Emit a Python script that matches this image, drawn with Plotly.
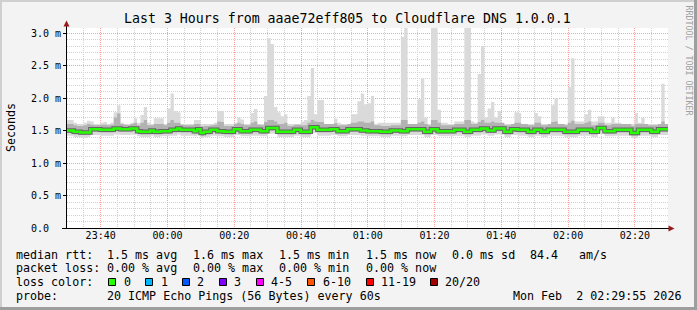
import plotly.graph_objects as go
from datetime import datetime, timedelta

# ---------------- data ----------------
start_time = datetime(2026, 2, 1, 23, 29, 55)
end_time = datetime(2026, 2, 2, 2, 29, 55)

median_rtt = [
    1.50,1.50,1.48,1.48,1.47,1.47,1.47,1.52,1.52,1.52,
    1.51,1.51,1.51,1.51,1.53,1.53,1.52,1.52,1.52,1.53,
    1.53,1.49,1.48,1.48,1.48,1.50,1.48,1.48,1.49,1.49,
    1.49,1.51,1.51,1.53,1.51,1.51,1.51,1.51,1.49,1.52,
    1.46,1.48,1.48,1.51,1.51,1.49,1.49,1.48,1.48,1.48,
    1.52,1.52,1.49,1.49,1.49,1.51,1.51,1.51,1.49,1.49,
    1.54,1.54,1.54,1.48,1.48,1.48,1.48,1.48,1.51,1.51,
    1.48,1.48,1.48,1.55,1.55,1.51,1.51,1.51,1.51,1.52,
    1.52,1.49,1.49,1.49,1.52,1.52,1.52,1.52,1.50,1.50,
    1.49,1.49,1.49,1.49,1.48,1.48,1.48,1.50,1.50,1.50,
    1.49,1.49,1.52,1.52,1.52,1.52,1.52,1.48,1.48,1.52,
    1.52,1.49,1.49,1.49,1.49,1.49,1.51,1.51,1.51,1.48,
    1.48,1.51,1.51,1.51,1.53,1.53,1.50,1.50,1.53,1.53,
    1.53,1.48,1.48,1.52,1.52,1.51,1.51,1.51,1.48,1.48,
    1.51,1.51,1.48,1.48,1.51,1.51,1.51,1.51,1.51,1.48,
    1.48,1.48,1.48,1.51,1.51,1.51,1.51,1.48,1.48,1.54,
    1.54,1.49,1.49,1.49,1.51,1.51,1.51,1.51,1.51,1.46,
    1.46,1.51,1.51,1.51,1.51,1.48,1.48,1.52,1.52,1.52,
]

smoke_max = [
    1.66,1.66,1.62,1.60,1.60,1.62,1.65,1.64,1.60,1.60,
    1.62,1.63,1.60,1.62,1.78,1.89,1.62,1.60,1.60,1.62,
    1.69,1.62,1.74,1.86,1.62,1.60,1.69,1.69,1.69,1.60,
    1.84,2.07,1.80,1.78,1.60,1.60,1.60,1.60,1.66,1.66,
    1.60,1.60,1.60,1.60,1.62,1.80,1.80,1.60,1.60,1.60,
    1.62,1.70,1.67,1.60,1.60,1.77,1.83,1.60,1.60,2.03,
    2.92,2.83,1.86,1.78,1.72,1.75,1.60,1.60,1.60,1.60,
    1.64,1.66,2.03,2.46,1.75,1.97,1.97,1.60,1.60,1.60,
    1.68,1.62,1.60,1.60,1.60,1.75,1.75,1.95,2.07,1.90,
    1.92,2.03,1.60,1.62,1.62,1.62,1.62,1.62,1.62,1.62,
    2.94,3.10,1.60,1.60,1.60,1.98,2.30,1.70,1.60,3.10,
    3.10,1.82,1.62,1.62,1.60,1.60,1.64,1.64,1.64,3.10,
    3.10,1.64,1.62,2.37,2.80,1.70,1.84,1.94,1.70,1.80,
    1.60,1.60,1.60,1.60,1.78,1.77,1.60,1.60,1.60,1.60,
    1.77,1.72,1.60,1.60,1.60,1.89,2.00,1.60,1.60,1.60,
    2.17,2.61,1.64,1.64,1.64,1.75,1.82,1.64,1.64,1.72,
    1.72,1.62,1.62,1.70,1.62,1.62,1.60,1.60,1.60,1.60,
    1.77,1.62,1.70,1.60,1.60,1.60,1.60,1.60,2.22,1.60,
]

smoke_mid_hi = [
    1.60,1.60,1.58,1.57,1.57,1.58,1.60,1.59,1.58,1.58,
    1.59,1.59,1.58,1.59,1.70,1.76,1.60,1.59,1.58,1.60,
    1.62,1.58,1.62,1.66,1.58,1.58,1.60,1.60,1.60,1.58,
    1.62,1.66,1.62,1.62,1.59,1.58,1.58,1.58,1.60,1.60,
    1.56,1.57,1.57,1.58,1.59,1.64,1.63,1.57,1.57,1.57,
    1.60,1.62,1.60,1.58,1.58,1.62,1.64,1.59,1.58,1.63,
    1.66,1.66,1.64,1.60,1.60,1.62,1.57,1.57,1.59,1.59,
    1.58,1.58,1.62,1.66,1.64,1.63,1.63,1.60,1.60,1.60,
    1.61,1.58,1.58,1.58,1.60,1.62,1.62,1.64,1.64,1.62,
    1.62,1.64,1.58,1.58,1.57,1.57,1.57,1.58,1.58,1.58,
    1.66,1.66,1.60,1.60,1.60,1.62,1.64,1.60,1.58,1.66,
    1.66,1.62,1.58,1.58,1.58,1.58,1.60,1.60,1.60,1.66,
    1.66,1.60,1.60,1.63,1.66,1.62,1.62,1.64,1.62,1.62,
    1.62,1.58,1.58,1.60,1.62,1.62,1.60,1.60,1.58,1.58,
    1.62,1.62,1.58,1.58,1.60,1.63,1.64,1.60,1.60,1.58,
    1.62,1.65,1.60,1.60,1.60,1.62,1.64,1.58,1.58,1.62,
    1.62,1.58,1.58,1.60,1.60,1.60,1.60,1.60,1.60,1.57,
    1.60,1.60,1.60,1.60,1.58,1.58,1.58,1.60,1.64,1.60,
]

smoke_mid_lo = [
    1.46,1.46,1.44,1.44,1.43,1.43,1.44,1.48,1.48,1.48,
    1.47,1.47,1.47,1.47,1.49,1.49,1.48,1.48,1.48,1.49,
    1.49,1.45,1.44,1.44,1.44,1.46,1.44,1.44,1.45,1.45,
    1.45,1.47,1.47,1.49,1.47,1.47,1.47,1.47,1.45,1.48,
    1.42,1.44,1.44,1.47,1.47,1.45,1.45,1.44,1.44,1.44,
    1.48,1.48,1.45,1.45,1.45,1.47,1.47,1.47,1.45,1.45,
    1.50,1.50,1.50,1.44,1.44,1.44,1.44,1.44,1.47,1.47,
    1.44,1.44,1.44,1.51,1.51,1.47,1.47,1.47,1.47,1.48,
    1.48,1.45,1.45,1.45,1.48,1.48,1.48,1.48,1.46,1.46,
    1.45,1.45,1.45,1.45,1.44,1.44,1.44,1.46,1.46,1.46,
    1.45,1.45,1.48,1.48,1.48,1.48,1.48,1.44,1.44,1.48,
    1.48,1.45,1.45,1.45,1.45,1.45,1.47,1.47,1.47,1.44,
    1.44,1.47,1.47,1.47,1.49,1.49,1.46,1.46,1.49,1.49,
    1.49,1.44,1.44,1.48,1.48,1.47,1.47,1.47,1.44,1.44,
    1.47,1.47,1.44,1.44,1.47,1.47,1.47,1.47,1.47,1.44,
    1.44,1.44,1.44,1.47,1.47,1.47,1.47,1.44,1.44,1.50,
    1.50,1.45,1.45,1.45,1.47,1.47,1.47,1.47,1.47,1.42,
    1.42,1.47,1.47,1.47,1.47,1.44,1.44,1.48,1.48,1.48,
]

smoke_min = [
    1.42,1.42,1.40,1.40,1.39,1.39,1.40,1.43,1.43,1.43,
    1.42,1.42,1.42,1.42,1.44,1.44,1.43,1.43,1.43,1.44,
    1.44,1.41,1.40,1.40,1.40,1.42,1.40,1.40,1.41,1.41,
    1.41,1.42,1.42,1.44,1.42,1.42,1.42,1.42,1.41,1.43,
    1.38,1.40,1.40,1.42,1.42,1.41,1.41,1.40,1.40,1.40,
    1.43,1.43,1.41,1.41,1.41,1.42,1.42,1.42,1.41,1.41,
    1.45,1.45,1.45,1.40,1.40,1.40,1.40,1.40,1.42,1.42,
    1.40,1.40,1.40,1.46,1.46,1.42,1.42,1.42,1.42,1.43,
    1.43,1.41,1.41,1.41,1.43,1.43,1.43,1.43,1.42,1.42,
    1.41,1.41,1.41,1.41,1.40,1.40,1.40,1.42,1.42,1.42,
    1.41,1.41,1.43,1.43,1.43,1.43,1.43,1.40,1.40,1.43,
    1.43,1.41,1.41,1.41,1.41,1.41,1.42,1.42,1.42,1.40,
    1.40,1.42,1.42,1.42,1.44,1.44,1.42,1.42,1.44,1.44,
    1.44,1.40,1.40,1.43,1.43,1.42,1.42,1.42,1.40,1.40,
    1.42,1.42,1.40,1.40,1.42,1.42,1.42,1.42,1.42,1.40,
    1.40,1.40,1.40,1.42,1.42,1.42,1.42,1.40,1.40,1.45,
    1.45,1.41,1.41,1.41,1.42,1.42,1.42,1.42,1.42,1.38,
    1.38,1.42,1.42,1.42,1.42,1.40,1.40,1.43,1.43,1.43,
]

y_tick_vals = [0.0, 0.5, 1.0, 1.5, 2.0, 2.5, 3.0]
y_tick_text = ["0.0\u00a0\u00a0", "0.5 m", "1.0 m", "1.5 m", "2.0 m", "2.5 m", "3.0 m"]
x_tick_vals = ["2026-02-01 23:40", "2026-02-02 00:00", "2026-02-02 00:20", "2026-02-02 00:40",
               "2026-02-02 01:00", "2026-02-02 01:20", "2026-02-02 01:40", "2026-02-02 02:00",
               "2026-02-02 02:20"]
x_tick_text = ["23:40", "00:00", "00:20", "00:40", "01:00", "01:20", "01:40", "02:00", "02:20"]

loss_labels = ["0", "1", "2", "3", "4-5", "6-10", "11-19", "20/20"]
loss_colors = ["#26ff00", "#00b8ff", "#0059ff", "#7e00ff", "#ff00ff", "#ff5500", "#ff0000", "#a00000"]

title_text = "Last 3 Hours from aaae72eff805 to Cloudflare DNS 1.0.0.1"
rtt_row = ["median rtt:", "1.5 ms avg", "1.6 ms max", "1.5 ms min", "1.5 ms now", "0.0 ms sd", "84.4", "am/s"]
loss_row = ["packet loss:", "0.00 % avg", "0.00 % max", "0.00 % min", "0.00 % now"]
probe_text = "20 ICMP Echo Pings (56 Bytes) every 60s"
date_text = "Mon Feb\u00a0\u00a02 02:29:55 2026"

# ---------------- geometry ----------------
W, H = 697, 310
L, R, T, B = 67, 668, 28, 228
FONT = "DejaVu Sans Mono"


def px(x):
    return (x - L) / (R - L)


def py(y):
    return (B - y) / (B - T)


n = len(median_rtt)
edges = [start_time + timedelta(minutes=i) for i in range(n + 1)]


def stepped(vals):
    return list(vals) + [vals[-1]]


fig = go.Figure()


def band(lo, hi, color):
    fig.add_trace(go.Scatter(x=edges, y=stepped(lo), mode="lines",
                             line=dict(width=0, shape="hv"), hoverinfo="skip", showlegend=False))
    fig.add_trace(go.Scatter(x=edges, y=stepped(hi), mode="lines", fill="tonexty",
                             fillcolor=color, line=dict(width=0, shape="hv"),
                             hoverinfo="skip", showlegend=False))


band(smoke_min, smoke_max, "#dadada")
band(smoke_mid_lo, smoke_mid_hi, "#b2b2b2")
fig.add_trace(go.Scatter(x=edges, y=stepped(median_rtt), mode="lines",
                         line=dict(width=4.5, color="#666666", shape="hv"),
                         hoverinfo="skip", showlegend=False))
fig.add_trace(go.Scatter(x=edges, y=stepped(median_rtt), mode="lines",
                         line=dict(width=2.5, color="#26ff00", shape="hv"),
                         hoverinfo="skip", showlegend=False))

shapes = []


def rect(x0, y0, x1, y1, fill, line=None):
    shapes.append(dict(type="rect", xref="paper", yref="paper",
                       x0=px(x0), x1=px(x1), y0=py(y0), y1=py(y1),
                       fillcolor=fill, line=dict(width=1 if line else 0, color=line or fill),
                       layer="above"))


def seg(x0, y0, x1, y1, color="#000000", w=1):
    shapes.append(dict(type="line", xref="paper", yref="paper",
                       x0=px(x0), x1=px(x1), y0=py(y0), y1=py(y1),
                       line=dict(width=w, color=color), layer="above"))


def path(points, color):
    d = "M " + " L ".join(f"{px(a)},{py(b)}" for a, b in points) + " Z"
    shapes.append(dict(type="path", xref="paper", yref="paper", path=d,
                       fillcolor=color, line=dict(width=0), layer="above"))


# frame
rect(0, 0, W, 2, "#cfcfcf")
rect(0, 0, 2, H, "#cfcfcf")
rect(0, H - 3, W, H, "#9e9e9e")
rect(W - 3, 0, W, H, "#9e9e9e")

# axes with arrows
seg(66.5, 228.5, 66.5, 24)
seg(62, 228.5, 670, 228.5)
path([(66.5, 20.5), (63.5, 26.5), (69.5, 26.5)], "#9c1a1a")
path([(674.5, 228.5), (668.5, 225.5), (668.5, 231.5)], "#9c1a1a")

# loss color boxes
box_x = [108.5, 145.5, 182.5, 219.5, 256.5, 307.5, 366.5, 430.5]
lab_x = [124, 161.3, 197.3, 234, 270.7, 322.7, 380.7, 445]
for bx, c in zip(box_x, loss_colors):
    rect(bx, 278.5, bx + 7, 285.5, c, line="#000000")

annotations = []


def txt(x, y, s, size=11.66, anchor="left", color="#000000", angle=0):
    annotations.append(dict(xref="paper", yref="paper", x=px(x), y=py(y), text=s,
                            xanchor=anchor, yanchor="middle", showarrow=False,
                            textangle=angle, borderpad=0, borderwidth=0,
                            font=dict(family=FONT, size=size, color=color)))


txt(347.5, 18.5, title_text, size=13.25, anchor="center")
txt(11, 128, "Seconds", size=11.66, anchor="center", angle=-90)
txt(688.5, 60, "RRDTOOL / TOBI OETIKER", size=8.3, anchor="center", color="#a0a0a0", angle=90)

row_x1 = [16, 107.3, 193.3, 279.3, 366, 451.7, 530, 579.3]
for x, s in zip(row_x1, rtt_row):
    txt(x, 254.5, s)
row_x2 = [16, 107.3, 193.3, 279.3, 366]
for x, s in zip(row_x2, loss_row):
    txt(x, 268.3, s)
txt(16, 282, "loss color:")
for x, s in zip(lab_x, loss_labels):
    txt(x, 282, s)
txt(16, 295.7, "probe:")
txt(107.3, 295.7, probe_text)
txt(513.3, 295.7, date_text)

fig.update_layout(
    width=W, height=H,
    margin=dict(l=L, r=W - R, t=T, b=H - B, pad=0),
    paper_bgcolor="#f3f3f3", plot_bgcolor="#ffffff",
    showlegend=False, hovermode=False,
    shapes=shapes, annotations=annotations,
    font=dict(family=FONT, color="#000000"),
)
fig.update_xaxes(
    type="date", range=[start_time, end_time],
    tickmode="array", tickvals=x_tick_vals, ticktext=x_tick_text,
    tickfont=dict(family=FONT, size=10, color="#000000"),
    ticks="", showline=False, zeroline=False,
    showgrid=True, gridcolor="#ff9c9c", griddash="1px,1px", gridwidth=1,
    minor=dict(tickmode="linear", tick0="2026-02-01 23:30:00", dtick=300000,
               showgrid=True, gridcolor="#d2d2d2", griddash="1px,1px", gridwidth=1, ticks=""),
    fixedrange=True,
)
fig.update_yaxes(
    range=[0, 3.077],
    tickmode="array", tickvals=y_tick_vals, ticktext=y_tick_text,
    tickfont=dict(family=FONT, size=10, color="#000000"),
    ticks="outside", ticklen=3, tickcolor="#000000", tickwidth=1,
    showline=False, zeroline=False,
    showgrid=True, gridcolor="#ff9c9c", griddash="1px,1px", gridwidth=1,
    minor=dict(tickmode="linear", tick0=0, dtick=0.1,
               showgrid=True, gridcolor="#d2d2d2", griddash="1px,1px", gridwidth=1, ticks=""),
    fixedrange=True,
)

fig.write_html("out.html", config={"displayModeBar": False, "staticPlot": True})
